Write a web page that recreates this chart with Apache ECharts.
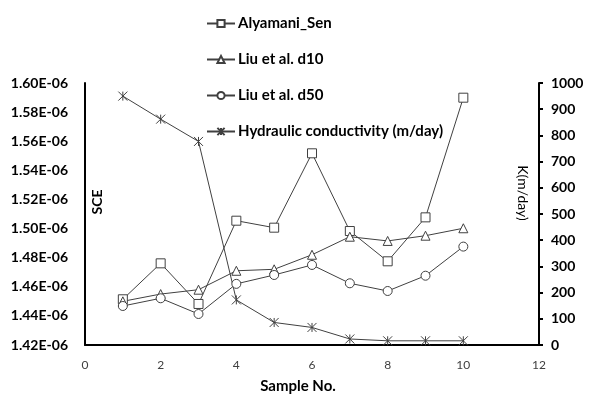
<!DOCTYPE html>
<html>
<head>
<meta charset="utf-8">
<script src="https://cdn.jsdelivr.net/npm/echarts@6/dist/echarts.min.js"></script>
<style>
html,body{margin:0;padding:0;background:#fff;}
#chart{width:591px;height:398px;}
</style>
</head>
<body>
<div id="chart"></div>
<script>
// sample numbers
var samples=[1,2,3,4,5,6,7,8,9,10];
// SCE values, in units of 1E-06
var sceAlyamani=[1.4514,1.4761,1.4482,1.5054,1.5006,1.5517,1.4983,1.4775,1.5077,1.5899];
var sceLiuD10=[1.4500,1.4550,1.4580,1.4710,1.4720,1.4820,1.4944,1.4915,1.4951,1.5002];
var sceLiuD50=[1.4468,1.4521,1.4413,1.4620,1.4681,1.4750,1.4624,1.4571,1.4676,1.4876];
// hydraulic conductivity, m/day
var hydCond=[950,862,777,172,86,67,23,16,16,16];
var seriesNames=['Alyamani_Sen','Liu et al. d10','Liu et al. d50','Hydraulic conductivity (m/day)'];

var FONT='Lato';
var LINE='#404040';
var starPath='path://M0,0L10,10M10,0L0,10M5,0L5,10';

function pairs(ys){
	return samples.map(function(x,i){return [x,ys[i]];});
}
function makeSeries(name,ys,symbol,axisIdx){
	return {
		name:name,
		type:'line',
		yAxisIndex:axisIdx,
		data:pairs(ys),
		symbol:symbol,
		symbolSize:9,
		showAllSymbol:true,
		lineStyle:{color:LINE,width:1},
		itemStyle:{color:'#fff',borderColor:LINE,borderWidth:1},
		emphasis:{disabled:true},
		animation:false
	};
}

var myChart=echarts.init(document.getElementById('chart'));
var option={
	textStyle:{fontFamily:FONT},
	grid:{left:85,right:52,top:83,bottom:53},
	legend:{
		orient:'vertical',
		left:201,
		top:11,
		itemWidth:28,
		itemHeight:9,
		itemGap:21,
		textStyle:{fontFamily:FONT,fontWeight:'bold',fontSize:15,color:'#000',padding:[0,0,0,-2]},
		data:seriesNames
	},
	xAxis:{
		type:'value',
		min:0,max:12,interval:2,
		axisLine:{lineStyle:{color:'#000',width:2}},
		axisTick:{show:false},
		splitLine:{show:false},
		axisLabel:{color:'#404040',fontSize:12,margin:14,fontFamily:FONT}
	},
	yAxis:[{
		type:'value',
		min:1.42,max:1.60,interval:0.02,
		axisLine:{show:true,lineStyle:{color:'#000',width:2}},
		axisTick:{show:false},
		splitLine:{show:false},
		axisLabel:{
			color:'#000',fontWeight:'bold',fontSize:14,margin:17,fontFamily:FONT,
			formatter:function(v){return v.toFixed(2)+'E-06';}
		}
	},{
		type:'value',
		position:'right',
		min:0,max:1000,interval:100,
		axisLine:{show:true,lineStyle:{color:'#000',width:2}},
		axisTick:{show:true,length:4,lineStyle:{color:'#000',width:2}},
		splitLine:{show:false},
		axisLabel:{
			color:'#000',fontWeight:'bold',fontSize:14,margin:12,fontFamily:FONT,
			formatter:function(v){return String(v);}
		}
	}],
	graphic:[{
		type:'text',
		x:97,y:202,rotation:Math.PI/2,
		style:{text:'SCE',fontFamily:FONT,fontWeight:'bold',fontSize:14,fill:'#000',align:'center',verticalAlign:'middle'}
	},{
		type:'text',
		x:523,y:193,rotation:-Math.PI/2,
		style:{text:'K(m/day)',fontFamily:FONT,fontSize:14,fill:'#000',align:'center',verticalAlign:'middle'}
	},{
		type:'text',
		x:298,y:386,
		style:{text:'Sample No.',fontFamily:FONT,fontWeight:'bold',fontSize:15,fill:'#000',align:'center',verticalAlign:'middle'}
	}],
	series:[
		makeSeries(seriesNames[0],sceAlyamani,'rect',0),
		makeSeries(seriesNames[1],sceLiuD10,'triangle',0),
		makeSeries(seriesNames[2],sceLiuD50,'circle',0),
		makeSeries(seriesNames[3],hydCond,starPath,1)
	]
};
myChart.setOption(option);
</script>
</body>
</html>
